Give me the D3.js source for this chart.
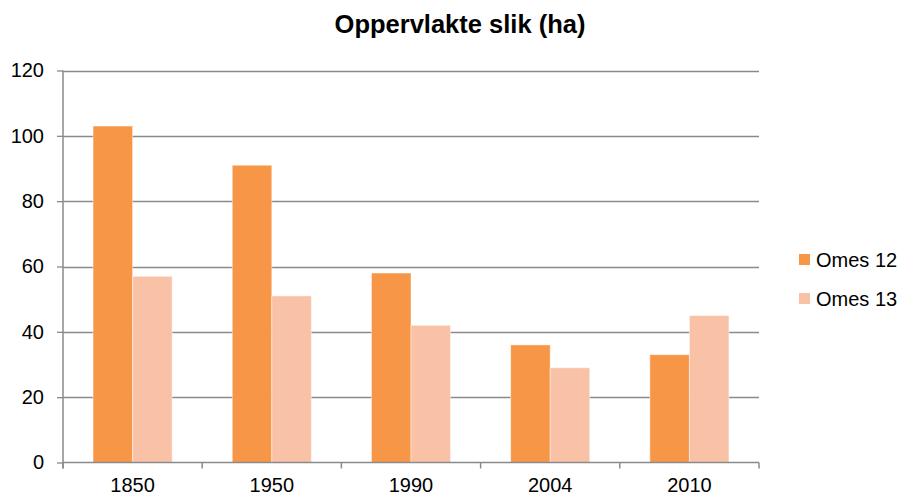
<!DOCTYPE html>
<html>
<head>
<meta charset="utf-8">
<script src="https://cdn.jsdelivr.net/npm/d3@7"></script>
<style>
  html, body { margin: 0; padding: 0; background: #fff; }
  svg { display: block; font-family: "Liberation Sans", Arial, sans-serif; }
</style>
</head>
<body>
<svg id="chart" width="903" height="497"></svg>
<script>
// Surface area per year, two series
const years = ["1850", "1950", "1990", "2004", "2010"];
const seriesNames = ["Omes 12", "Omes 13"];
const omes12 = [103, 91, 58, 36, 33];
const omes13 = [57, 51, 42, 29, 45];
const yTicks = [0, 20, 40, 60, 80, 100, 120];
const colors = ["#F79646", "#F9C2A6"];

const seriesValues = [omes12, omes13];
const rows = years.map((y, i) => ({ year: y, values: seriesValues.map(s => s[i]) }));

const svg = d3.select("#chart");
const plot = { left: 63, right: 759, top: 70.5, bottom: 462.5 };

const x0 = d3.scaleBand().domain(years).range([plot.left, plot.right]).padding(0);
const x1 = d3.scaleBand().domain(d3.range(seriesNames.length))
  .range([0, x0.bandwidth()]).paddingInner(0).paddingOuter(0.76);
const y = d3.scaleLinear().domain([0, 120]).range([plot.bottom, plot.top]);

const gridColor = "#8a8a8a";

// Title
svg.append("text")
  .attr("x", 460).attr("y", 33)
  .attr("text-anchor", "middle")
  .attr("font-size", 25.5).attr("font-weight", "bold")
  .attr("fill", "#000")
  .text("Oppervlakte slik (ha)");

// Horizontal gridlines
svg.append("g")
  .selectAll("line")
  .data(yTicks.filter(t => t > 0))
  .join("line")
  .attr("x1", plot.left).attr("x2", plot.right)
  .attr("y1", d => Math.round(y(d)) + 0.5).attr("y2", d => Math.round(y(d)) + 0.5)
  .attr("stroke", gridColor).attr("stroke-width", 1.3);

// Bars
const groups = svg.append("g")
  .selectAll("g")
  .data(rows)
  .join("g")
  .attr("transform", d => `translate(${x0(d.year)},0)`);

groups.selectAll("rect")
  .data(d => d.values.map((v, i) => ({ v, i })))
  .join("rect")
  .attr("x", d => x1(d.i))
  .attr("width", x1.bandwidth())
  .attr("y", d => y(d.v))
  .attr("height", d => y(0) - y(d.v))
  .attr("fill", d => colors[d.i])
  .attr("stroke", "#fff")
  .attr("stroke-opacity", 0.45)
  .attr("stroke-width", 1);

// Y axis
const yAxis = d3.axisLeft(y).tickValues(yTicks).tickSize(6).tickPadding(13).tickFormat(d3.format("d"));
const gy = svg.append("g")
  .attr("transform", `translate(${plot.left},0)`)
  .call(yAxis);
gy.select(".domain").remove();
gy.selectAll(".tick line").attr("stroke", gridColor).attr("stroke-width", 1.3);
gy.selectAll(".tick text").attr("font-size", 20).attr("fill", "#000")
  .attr("font-family", "'Liberation Sans', Arial, sans-serif");
svg.append("line")
  .attr("x1", plot.left).attr("x2", plot.left)
  .attr("y1", plot.top).attr("y2", plot.bottom + 6)
  .attr("stroke", gridColor).attr("stroke-width", 1.5);

// X axis: ticks at band boundaries, labels centred in bands
const xAxis = d3.axisBottom(x0).tickSize(0).tickPadding(15);
const gx = svg.append("g")
  .attr("transform", `translate(0,${plot.bottom})`)
  .call(xAxis);
gx.select(".domain").remove();
gx.selectAll(".tick text").attr("font-size", 20).attr("fill", "#000")
  .attr("font-family", "'Liberation Sans', Arial, sans-serif");
svg.append("line")
  .attr("x1", plot.left).attr("x2", plot.right)
  .attr("y1", plot.bottom).attr("y2", plot.bottom)
  .attr("stroke", gridColor).attr("stroke-width", 1.5);
svg.append("g")
  .selectAll("line")
  .data(years.map(yr => x0(yr)).concat([plot.right]))
  .join("line")
  .attr("x1", d => d).attr("x2", d => d)
  .attr("y1", plot.bottom).attr("y2", plot.bottom + 6)
  .attr("stroke", gridColor).attr("stroke-width", 1.5);

// Legend
const legend = svg.append("g")
  .selectAll("g")
  .data(seriesNames)
  .join("g")
  .attr("transform", (d, i) => `translate(799,${254 + i * 39})`);
legend.append("rect")
  .attr("width", 11).attr("height", 11)
  .attr("fill", (d, i) => colors[i]);
legend.append("text")
  .attr("x", 17).attr("y", 12.5)
  .attr("font-size", 20).attr("fill", "#000")
  .text(d => d);
</script>
</body>
</html>
